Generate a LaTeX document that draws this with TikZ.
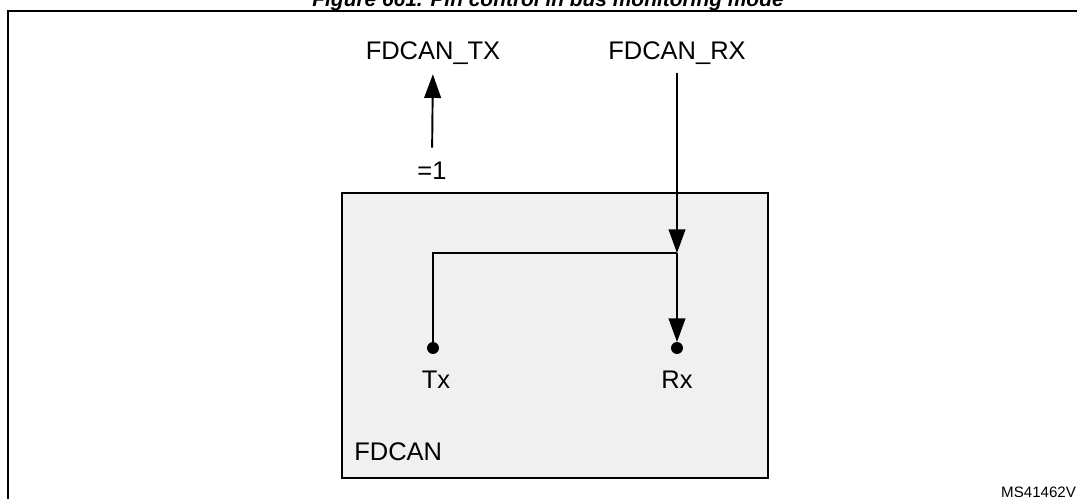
\documentclass[tikz,border=0pt]{standalone}
\usepackage{fontspec}
\setmainfont{Liberation Sans}
\usetikzlibrary{arrows.meta}
\definecolor{blockgray}{RGB}{240,240,240}

\begin{document}
\begin{tikzpicture}[x=0.02cm, y=-0.02cm,
    pinlabel/.style={inner sep=0pt, text height=10.4pt, text depth=0pt, font=\fontsize{14.5}{17}\selectfont},
    wire/.style={line width=1.1pt},
    sig/.style={wire, -{Triangle[length=13.5pt, width=9.5pt]}}]

  \useasboundingbox (0,0) rectangle (1077,499);
  \draw[line width=1.6pt] (8,11) rectangle (1090,515);
  \node[anchor=base, font=\fontsize{11.9}{14}\bfseries\itshape\selectfont] (title) at (548,7) {Figure 661. Pin control in bus monitoring mode};

  \node[pinlabel] (tx pin) at (433,50) {FDCAN\_TX};
  \node[pinlabel] (rx pin) at (677,50) {FDCAN\_RX};
  \node[pinlabel] (one) at (432,170) {=1};

  \draw[wire, fill=blockgray] (342,193) rectangle (768,478);
  \node[pinlabel, anchor=west] (fdcan) at (354,451) {FDCAN};
  \node[pinlabel] (tx label) at (436,379) {Tx};
  \node[pinlabel] (rx label) at (677,379) {Rx};

  \foreach \p/\x in {tx/433, rx/677}{
    \coordinate (\p) at (\x,348);
    \fill (\p) circle [radius=3.4pt];
  }
  \coordinate (split) at (677,253);

  \draw[sig, shorten <=7.3pt, shorten >=8.4pt] (one.north) -- (tx pin.south);
  \draw[sig, shorten <=7.8pt] (rx pin.south) -- (split);
  \draw[sig, shorten >=3.4pt] (split) -- (rx);
  \draw[wire] (split) -| (tx);

  \node[anchor=west, font=\fontsize{8.6}{10}\selectfont] (doc id) at (995,492) {MS41462V1};
\end{tikzpicture}
\end{document}
